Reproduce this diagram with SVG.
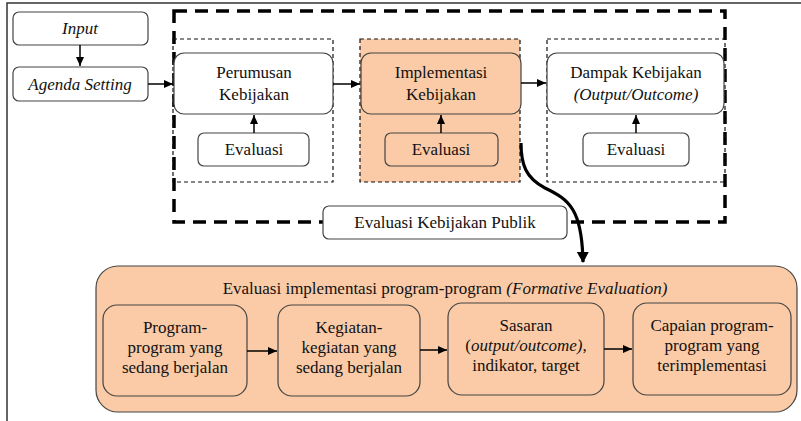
<svg xmlns="http://www.w3.org/2000/svg" width="801" height="421" viewBox="0 0 801 421">
  <defs>
    <marker id="arr" markerWidth="10" markerHeight="10" refX="9" refY="5" orient="auto" markerUnits="userSpaceOnUse">
      <path d="M0,1 L9,5 L0,9 Z" fill="#000"/>
    </marker>
    <marker id="arrBig" markerWidth="14" markerHeight="14" refX="10" refY="6" orient="auto" markerUnits="userSpaceOnUse">
      <path d="M0,0 L11,6 L0,12 Z" fill="#000"/>
    </marker>
    <style>
      text { font-family: 'Liberation Serif', 'Times New Roman', serif; font-size: 17px; fill: #111; text-anchor: middle; }
      .it { font-style: italic; }
      .box { fill: #fff; stroke: #444; stroke-width: 1.2; }
      .peach { fill: #fbcba7; stroke: #444; stroke-width: 1.2; }
      .grp { fill: none; stroke: #111; stroke-width: 1.2; stroke-dasharray: 4 3; }
      .grpP { fill: #fbcba7; stroke: #111; stroke-width: 1.2; stroke-dasharray: 4 3; }
      .conn { stroke: #000; stroke-width: 1.5; fill: none; marker-end: url(#arr); }
    </style>
  </defs>

  <!-- page frame -->
  <path d="M7,421 V3 H801" fill="none" stroke="#333" stroke-width="1.5"/>

  <!-- outer policy evaluation frame -->
  <rect x="174" y="11" width="551" height="211" fill="none" stroke="#000" stroke-width="3.5" stroke-dasharray="13 8"/>

  <g id="input">
    <rect class="box" x="13" y="12" width="135" height="33" rx="6"/>
    <text class="it" x="80" y="34">Input</text>
  </g>
  <g id="agenda">
    <rect class="box" x="13" y="67" width="135" height="34" rx="6"/>
    <text class="it" x="80" y="90">Agenda Setting</text>
  </g>

  <g id="perumusan-group">
    <rect class="grp" x="173" y="39" width="160" height="143"/>
    <g id="perumusan">
      <rect class="box" x="174" y="53" width="159" height="61" rx="10"/>
      <text x="254" y="78">Perumusan</text>
      <text x="254" y="100">Kebijakan</text>
    </g>
    <g id="evaluasi1">
      <rect class="box" x="198" y="133" width="111" height="33" rx="6"/>
      <text x="254" y="155">Evaluasi</text>
    </g>
  </g>

  <g id="implementasi-group">
    <rect class="grpP" x="360" y="39" width="160" height="143"/>
    <g id="implementasi">
      <rect class="peach" x="361" y="53" width="160" height="61" rx="10"/>
      <text x="441" y="78">Implementasi</text>
      <text x="441" y="100">Kebijakan</text>
    </g>
    <g id="evaluasi2">
      <rect class="peach" x="385" y="133" width="113" height="33" rx="6"/>
      <text x="441" y="155">Evaluasi</text>
    </g>
  </g>

  <g id="dampak-group">
    <rect class="grp" x="547" y="39" width="178" height="143"/>
    <g id="dampak">
      <rect class="box" x="547" y="53" width="177" height="61" rx="10"/>
      <text x="636" y="78">Dampak Kebijakan</text>
      <text class="it" x="636" y="100">(Output/Outcome)</text>
    </g>
    <g id="evaluasi3">
      <rect class="box" x="583" y="133" width="106" height="33" rx="6"/>
      <text x="636" y="155">Evaluasi</text>
    </g>
  </g>

  <g id="evaluasi-publik">
    <rect class="box" x="323" y="206" width="244" height="33" rx="6"/>
    <text x="445" y="228">Evaluasi Kebijakan Publik</text>
  </g>

  <g id="formative">
    <rect class="peach" x="96" y="266" width="701" height="146" rx="22"/>
    <text x="445" y="294">Evaluasi implementasi program-program <tspan class="it">(Formative Evaluation)</tspan></text>
    <g id="program">
      <rect class="peach" x="103" y="305" width="144" height="91" rx="14"/>
      <text x="175" y="333">Program-</text>
      <text x="175" y="353">program yang</text>
      <text x="175" y="373">sedang berjalan</text>
    </g>
    <g id="kegiatan">
      <rect class="peach" x="278" y="305" width="142" height="91" rx="14"/>
      <text x="349" y="333">Kegiatan-</text>
      <text x="349" y="353">kegiatan yang</text>
      <text x="349" y="373">sedang berjalan</text>
    </g>
    <g id="sasaran">
      <rect class="peach" x="448" y="303" width="156" height="92" rx="14"/>
      <text x="526" y="331">Sasaran</text>
      <text x="526" y="351">(<tspan class="it">output/outcome)</tspan>,</text>
      <text x="526" y="371">indikator, target</text>
    </g>
    <g id="capaian">
      <rect class="peach" x="633" y="303" width="158" height="92" rx="14"/>
      <text x="712" y="331">Capaian program-</text>
      <text x="712" y="351">program yang</text>
      <text x="712" y="371">terimplementasi</text>
    </g>
  </g>

  <g id="connectors">
    <line class="conn" x1="80" y1="45" x2="80" y2="66"/>
    <line class="conn" x1="148" y1="84" x2="173" y2="84"/>
    <line class="conn" x1="254" y1="133" x2="254" y2="115"/>
    <line class="conn" x1="333" y1="84" x2="360" y2="84"/>
    <line class="conn" x1="441" y1="133" x2="441" y2="115"/>
    <line class="conn" x1="521" y1="83" x2="546" y2="83"/>
    <line class="conn" x1="636" y1="133" x2="636" y2="115"/>
    <line class="conn" x1="247" y1="351" x2="277" y2="351"/>
    <line class="conn" x1="420" y1="350" x2="447" y2="350"/>
    <line class="conn" x1="604" y1="349" x2="632" y2="349"/>
    <path d="M521,143 C521,165 526,178 545,188 C570,200 582,210 583,262" fill="none" stroke="#000" stroke-width="3.2" marker-end="url(#arrBig)"/>
  </g>
</svg>
